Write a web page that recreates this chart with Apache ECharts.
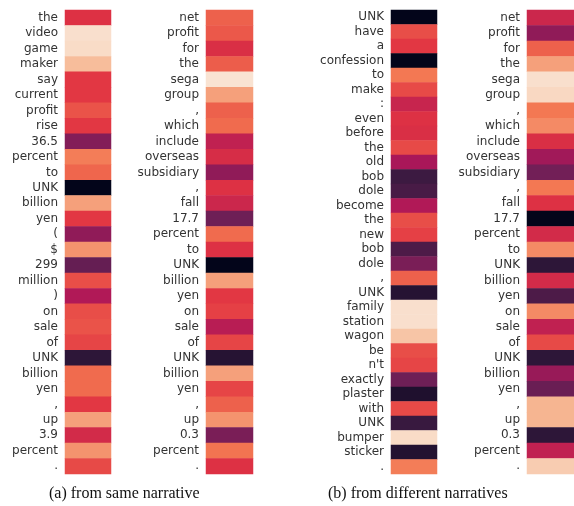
<!DOCTYPE html>
<html><head><meta charset="utf-8">
<script src="https://cdn.jsdelivr.net/npm/echarts@6/dist/echarts.min.js"></script>
<style>html,body{margin:0;padding:0;background:#fff}#c{width:574px;height:506px}</style>
</head><body><div id="c"></div>
<script>
const tokensA1 = ["the","video","game","maker","say","current","profit","rise","36.5","percent","to","UNK","billion","yen","(","$","299","million",")","on","sale","of","UNK","billion","yen",",","up","3.9","percent","."];
const valuesA1 = [0.56,0.97,0.96,0.88,0.58,0.58,0.64,0.58,0.33,0.73,0.68,0.0,0.81,0.58,0.36,0.78,0.26,0.63,0.44,0.63,0.64,0.61,0.12,0.69,0.69,0.58,0.81,0.53,0.78,0.62];
const tokensA2 = ["net","profit","for","the","sega","group",",","which","include","overseas","subsidiary",",","fall","17.7","percent","to","UNK","billion","yen","on","sale","of","UNK","billion","yen",",","up","0.3","percent","."];
const valuesA2 = [0.67,0.65,0.55,0.66,0.98,0.81,0.67,0.69,0.48,0.54,0.36,0.56,0.51,0.28,0.69,0.56,0.0,0.81,0.58,0.60,0.46,0.61,0.10,0.81,0.61,0.67,0.78,0.31,0.71,0.56];
const tokensB1 = ["UNK","have","a","confession","to","make",":","even","before","the","old","bob","dole","become","the","new","bob","dole",",","UNK","family","station","wagon","be","n't","exactly","plaster","with","UNK","bumper","sticker","."];
const valuesB1 = [0.0,0.63,0.58,0.0,0.72,0.62,0.50,0.56,0.55,0.62,0.42,0.16,0.19,0.44,0.63,0.60,0.20,0.31,0.67,0.10,0.97,0.97,0.90,0.63,0.61,0.28,0.08,0.62,0.15,0.96,0.09,0.73];
const tokensB2 = tokensA2.slice();
const valuesB2 = [0.51,0.36,0.67,0.81,0.97,0.95,0.72,0.76,0.55,0.40,0.29,0.72,0.56,0.0,0.53,0.76,0.12,0.53,0.20,0.76,0.48,0.62,0.12,0.38,0.27,0.86,0.86,0.12,0.48,0.92];
const captions = ["(a) from same narrative","(b) from different narratives"];

const rocket = ['#03051A','#35193E','#701F57','#AD1759','#E13342','#F37651','#F6B48F','#FAEBDD'];

const panels = [
  {tokens: tokensA1, values: valuesA1, left: 65, width: 46},
  {tokens: tokensA2, values: valuesA2, left: 206, width: 47},
  {tokens: tokensB1, values: valuesB1, left: 391, width: 46},
  {tokens: tokensB2, values: valuesB2, left: 527, width: 47}
];

const grid = [], xAxis = [], yAxis = [], series = [];
panels.forEach((p, i) => {
  grid.push({left: p.left, width: p.width, top: 10, height: 464});
  xAxis.push({type: 'category', gridIndex: i, data: [''], show: false});
  yAxis.push({type: 'category', gridIndex: i, data: p.tokens, inverse: true,
    axisLine: {show: false}, axisTick: {show: false}, splitLine: {show: false},
    axisLabel: {interval: 0, margin: 7, fontFamily: 'DejaVu Sans', fontSize: 12, color: '#333'}});
  series.push({type: 'heatmap', xAxisIndex: i, yAxisIndex: i,
    data: p.values.map((v, j) => [0, j, v]), itemStyle: {borderWidth: 0}, emphasis: {disabled: true}});
});

const chart = echarts.init(document.getElementById('c'), null, {renderer: 'canvas'});
chart.setOption({
  animation: false,
  backgroundColor: '#fff',
  grid, xAxis, yAxis, series,
  visualMap: {type: 'continuous', min: 0, max: 1, show: false, inRange: {color: rocket}},
  graphic: [
    {type: 'text', left: 49, top: 486, style: {text: captions[0], font: '16px "Liberation Serif"', fill: '#111'}},
    {type: 'text', left: 328, top: 486, style: {text: captions[1], font: '16px "Liberation Serif"', fill: '#111'}}
  ]
});
</script></body></html>
